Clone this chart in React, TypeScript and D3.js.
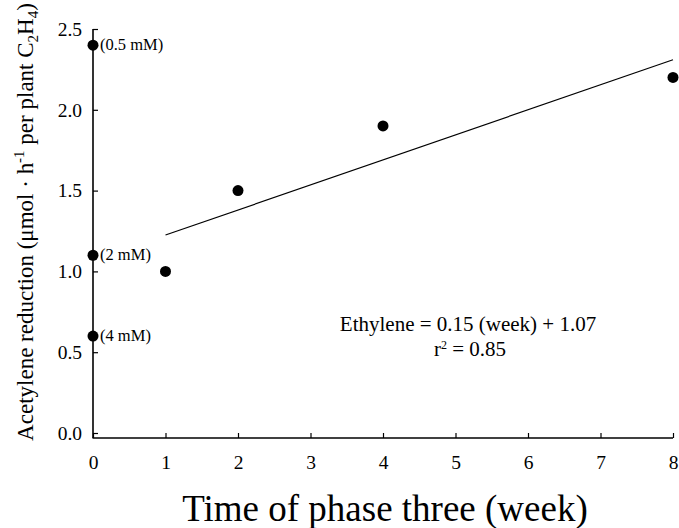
import * as d3 from 'd3'
import { useEffect, useRef } from 'react'

// measured points (week, acetylene reduction)
const weeks = [0, 0, 0, 1, 2, 4, 8]
const values = [2.4, 1.1, 0.6, 1.0, 1.5, 1.9, 2.2]
const pointNotes = ['(0.5 mM)', '(2 mM)', '(4 mM)', '', '', '', '']

// fitted regression line endpoints
const fitWeeks = [1, 8]
const fitValues = [1.225, 2.31]

const xTicks = [0, 1, 2, 3, 4, 5, 6, 7, 8]
const yTicks = [0, 0.5, 1.0, 1.5, 2.0, 2.5]

const FONT = '"Liberation Serif", "Times New Roman", serif'

const App = () => {
  const ref = useRef<SVGSVGElement>(null)

  useEffect(() => {
    if (!ref.current) return
    const width = 679
    const height = 528

    const x = d3.scaleLinear().domain([0, 8]).range([93, 673])
    const y = d3.scaleLinear().domain([0, 2.5]).range([433, 29])
    const axisY = 438

    const svg = d3.select(ref.current)
      .attr('width', width)
      .attr('height', height)
      .append('g')

    // x axis (ticks pointing inward)
    const xAxis = svg.append('g')
      .attr('transform', `translate(0,${axisY})`)
      .call(d3.axisBottom(x).tickValues(xTicks).tickSize(-5).tickPadding(17).tickFormat(d3.format('d')))
    xAxis.select('.domain').attr('d', `M${x(0) - 0.5},0H${x(8)}`).attr('stroke-width', 1.6)
    xAxis.selectAll('.tick line').attr('stroke-width', 1.2)
    xAxis.selectAll('text')
      .attr('font-family', FONT).attr('font-size', 19.5).attr('fill', '#000')

    // y axis
    const yAxis = svg.append('g')
      .attr('transform', `translate(${x(0)},0)`)
      .call(d3.axisLeft(y).tickValues(yTicks).tickSize(-5).tickPadding(11).tickFormat(d3.format('.1f')))
    yAxis.select('.domain').attr('d', `M0,${y(2.5)}V${axisY}`).attr('stroke-width', 1.6)
    yAxis.selectAll('.tick line').attr('stroke-width', 1.2)
    yAxis.selectAll('text')
      .attr('font-family', FONT).attr('font-size', 19.5).attr('fill', '#000')

    // regression line
    const line = d3.line<number>()
      .x(d => x(d))
      .y((_d, i) => y(fitValues[i]))
    svg.append('path')
      .datum(fitWeeks)
      .attr('d', line)
      .attr('fill', 'none')
      .attr('stroke', '#000')
      .attr('stroke-width', 1.2)

    // points
    svg.selectAll('circle.pt')
      .data(weeks)
      .enter()
      .append('circle')
      .attr('class', 'pt')
      .attr('cx', d => x(d))
      .attr('cy', (_d, i) => y(values[i]))
      .attr('r', 5.5)
      .attr('fill', '#000')

    svg.selectAll('text.note')
      .data(pointNotes)
      .enter()
      .append('text')
      .attr('class', 'note')
      .attr('x', (_d, i) => x(weeks[i]) + 7)
      .attr('y', (_d, i) => y(values[i]) + 5)
      .attr('font-family', FONT)
      .attr('font-size', 16.5)
      .text(d => d)

    // equation
    const eq = svg.append('g').attr('font-family', FONT).attr('font-size', 21).attr('text-anchor', 'middle')
    eq.append('text').attr('x', 468).attr('y', 331).text('Ethylene = 0.15 (week) + 1.07')
    const r2 = eq.append('text').attr('x', 470).attr('y', 356)
    r2.append('tspan').text('r')
    r2.append('tspan').attr('font-size', 12).attr('dy', -7).text('2')
    r2.append('tspan').attr('dy', 7).text(' = 0.85')

    // axis titles
    svg.append('text')
      .attr('x', 385)
      .attr('y', 521)
      .attr('text-anchor', 'middle')
      .attr('font-family', FONT)
      .attr('font-size', 37)
      .text('Time of phase three (week)')

    const yl = svg.append('text')
      .attr('transform', 'translate(33,222) rotate(-90)')
      .attr('text-anchor', 'middle')
      .attr('font-family', FONT)
      .attr('font-size', 23)
    yl.append('tspan').text('Acetylene reduction (μmol · h')
    yl.append('tspan').attr('font-size', 15).attr('dy', -9).text('-1')
    yl.append('tspan').attr('dy', 9).text(' per plant C')
    yl.append('tspan').attr('font-size', 15).attr('dy', 5).text('2')
    yl.append('tspan').attr('dy', -5).text('H')
    yl.append('tspan').attr('font-size', 15).attr('dy', 5).text('4')
    yl.append('tspan').attr('dy', -5).text(')')

    return () => {
      svg.remove()
    }
  }, [])

  return (
    <div style={{ position: 'absolute', left: 0, top: 0, background: '#fff' }}>
      <svg ref={ref} style={{ display: 'block' }} />
    </div>
  )
}

export default App
